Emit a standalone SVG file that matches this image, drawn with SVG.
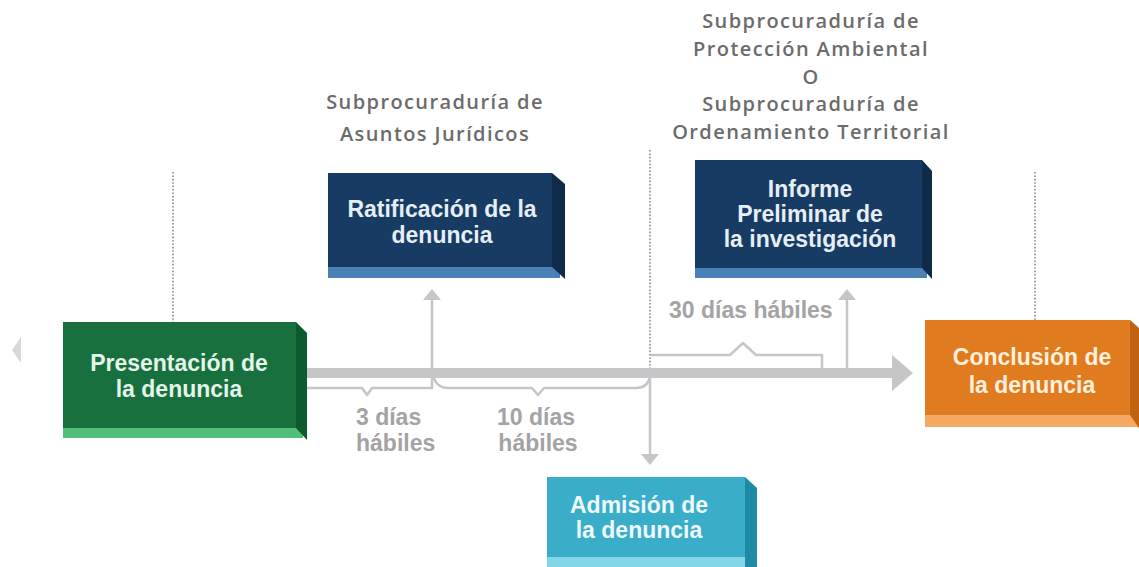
<svg xmlns="http://www.w3.org/2000/svg" width="1139" height="567" viewBox="0 0 1139 567">
<style>
.lbl{font-family:"Liberation Sans",Arial,sans-serif;font-weight:bold;font-size:23px;text-anchor:middle}
.gray{font-family:"Liberation Sans",Arial,sans-serif;font-weight:bold;font-size:23px;fill:#A3A3A3}
.hdr{font-family:"Open Sans","Liberation Sans",sans-serif;font-weight:600;font-size:20px;fill:#6B6B6B;text-anchor:middle;letter-spacing:1.4px}
.thin{fill:none;stroke:#C6C6C8;stroke-width:2.5;stroke-linejoin:round}
.dot{stroke:#8A8A8A;stroke-width:1.6;stroke-dasharray:1.6 1.8;fill:none}
.ah{fill:#C6C6C8}
</style>
<rect width="1139" height="567" fill="#FFFFFF"/>
<polygon points="21,337 12,350 21,363" fill="#D8D8D8"/>

<g id="headers">
<text class="hdr" x="435" y="109">Subprocuraduría de</text>
<text class="hdr" x="435" y="141">Asuntos Jurídicos</text>
<text class="hdr" x="811" y="28">Subprocuraduría de</text>
<text class="hdr" x="811" y="56">Protección Ambiental</text>
<text class="hdr" x="811" y="83.5">O</text>
<text class="hdr" x="811" y="111">Subprocuraduría de</text>
<text class="hdr" x="811" y="139">Ordenamiento Territorial</text>
</g>

<g id="connectors">
<line class="dot" x1="173" y1="172" x2="173" y2="322"/>
<line class="dot" x1="650" y1="150" x2="650" y2="368"/>
<line class="dot" x1="1035" y1="172" x2="1035" y2="320"/>
<rect x="305" y="368" width="589" height="10" fill="#C6C6C8"/>
<polygon class="ah" points="892,355 913,373 892,391"/>
<path class="thin" d="M307,388 H362 L367,395 L372,388 H432 V297"/>
<polygon class="ah" points="423,300 432,289 441,300"/>
<path class="thin" d="M433,375 Q436,388 448,388 H532 L538,395 L544,388 H636 Q648,388 650,376"/>
<path class="thin" d="M650,376 V456"/>
<polygon class="ah" points="641,454 650,465 659,454"/>
<path class="thin" d="M651,355 H730 L743,343 L756,355 H822 V368"/>
<path class="thin" d="M847,368 V296"/>
<polygon class="ah" points="838,300 847,289 856,300"/>
</g>

<g id="presentacion">
<rect x="63" y="428" width="240" height="10" fill="#4FBF7A"/>
<polygon points="296,322 307,333 307,440 296,428" fill="#0C5A2F"/>
<rect x="63" y="322" width="233" height="106" fill="#17703D"/>
<text class="lbl" fill="#E4F5E9" x="179" y="371">Presentación de</text>
<text class="lbl" fill="#E4F5E9" x="179" y="397">la denuncia</text>
</g>

<g id="ratificacion">
<rect x="328" y="267" width="232" height="11" fill="#4A82B5"/>
<polygon points="552,173 565,184 565,279 552,267" fill="#0E2B4A"/>
<rect x="328" y="173" width="224" height="94" fill="#183B63"/>
<text class="lbl" fill="#E6EEF6" x="442" y="217">Ratificación de la</text>
<text class="lbl" fill="#E6EEF6" x="442" y="243">denuncia</text>
</g>

<g id="informe">
<rect x="695" y="268" width="232" height="10" fill="#4A82B5"/>
<polygon points="922,160 932,171 932,279 922,268" fill="#0E2B4A"/>
<rect x="695" y="160" width="227" height="108" fill="#183B63"/>
<text class="lbl" fill="#E6EEF6" x="810" y="197">Informe</text>
<text class="lbl" fill="#E6EEF6" x="810" y="222">Preliminar de</text>
<text class="lbl" fill="#E6EEF6" x="810" y="247">la investigación</text>
</g>

<g id="conclusion">
<rect x="925" y="415" width="214" height="12" fill="#F5A862"/>
<polygon points="1130,320 1139,328 1139,428 1130,415" fill="#C0620F"/>
<rect x="925" y="320" width="205" height="95" fill="#E07C1F"/>
<text class="lbl" fill="#FFF0DE" x="1032" y="365">Conclusión de</text>
<text class="lbl" fill="#FFF0DE" x="1032" y="393">la denuncia</text>
</g>

<g id="admision">
<rect x="547" y="557" width="205" height="10" fill="#84D6E6"/>
<polygon points="745,477 757,488 757,567 745,567" fill="#1D8BA5"/>
<rect x="547" y="477" width="198" height="80" fill="#3AADC8"/>
<text class="lbl" fill="#EEF9FC" x="639" y="513">Admisión de</text>
<text class="lbl" fill="#EEF9FC" x="639" y="538">la denuncia</text>
</g>

<g id="labels">
<text class="gray" x="356" y="425">3 días</text>
<text class="gray" x="356" y="451">hábiles</text>
<text class="gray" x="536" y="425" text-anchor="middle">10 días</text>
<text class="gray" x="538" y="451" text-anchor="middle">hábiles</text>
<text class="gray" x="669" y="318">30 días hábiles</text>
</g>
</svg>
